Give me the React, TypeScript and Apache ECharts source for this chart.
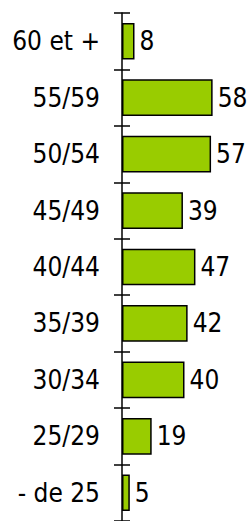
import React, { useEffect, useRef } from "react";
import * as echarts from "echarts";

const categories = ["60 et +", "55/59", "50/54", "45/49", "40/44", "35/39", "30/34", "25/29", "- de 25"];
const values = [8, 58, 57, 39, 47, 42, 40, 19, 5];

const FONT = "'DejaVu Sans Condensed', 'Liberation Sans', sans-serif";

export default function App() {
  const ref = useRef<HTMLDivElement>(null);
  useEffect(() => {
    if (!ref.current) return;
    const chart = echarts.init(ref.current, null, { renderer: "svg" });
    chart.setOption({
      animation: false,
      backgroundColor: "#ffffff",
      grid: { left: 122, right: 2, top: 13, height: 514, containLabel: false },
      xAxis: {
        type: "value",
        min: 0,
        max: 80,
        show: false,
      },
      yAxis: [
        {
          type: "category",
          data: categories,
          inverse: true,
          axisLine: { show: true, lineStyle: { color: "#000", width: 1.5 } },
          axisTick: { show: true, inside: false, length: 8, lineStyle: { color: "#000", width: 1.5 } },
          axisLabel: { margin: 22, color: "#000", fontSize: 26, fontFamily: FONT },
        },
        {
          type: "category",
          data: categories,
          inverse: true,
          position: "left",
          axisLine: { show: false },
          axisTick: { show: true, inside: true, length: 8, lineStyle: { color: "#000", width: 1.5 } },
          axisLabel: { show: false },
        },
      ],
      series: [
        {
          type: "bar",
          data: values,
          yAxisIndex: 0,
          barCategoryGap: "35%",
          itemStyle: { color: "#99cc00", borderColor: "#000", borderWidth: 1.5 },
          label: {
            show: true,
            position: "right",
            distance: 5,
            color: "#000",
            fontSize: 26,
            fontFamily: FONT,
          },
        },
      ],
    });
    return () => chart.dispose();
  }, []);
  return (
    <div
      ref={ref}
      style={{ position: "fixed", left: 0, top: 0, width: 249, height: 521 }}
    />
  );
}
